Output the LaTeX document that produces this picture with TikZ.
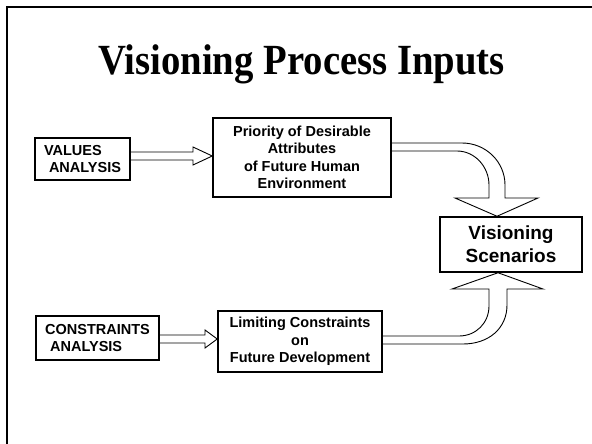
\documentclass[tikz,border=0pt]{standalone}
\usepackage{fontspec}
\setmainfont{Liberation Sans}
\newfontfamily\titlefont[FakeStretch=0.9]{Liberation Serif}
\usetikzlibrary{calc}

\begin{document}
\begin{tikzpicture}[x=1pt,y=-1pt,
  bx/.style={draw,line width=1.5pt,inner sep=0pt,align=center,
    font=\bfseries\fontsize{14.5}{17.5}\selectfont},
  fat/.style={line width=0.9pt,line join=miter}]
  \useasboundingbox (0,0) rectangle (592,444);
  \draw[line width=2.5pt] (7,444) -- (7,7) -- (592,7);

  \node[anchor=base,font=\titlefont\bfseries\fontsize{43}{50}\selectfont] (title)
    at (301.5,75) {Visioning Process Inputs};

  \node[bx,minimum width=95pt,minimum height=42pt,align=left] (values)
    at (82.5,159) {VALUES\\\hspace*{5pt}ANALYSIS};
  \node[bx,minimum width=178pt,minimum height=79pt] (priority)
    at (302,157.5) {Priority of Desirable\\Attributes\\of Future Human\\Environment};
  \node[bx,minimum width=142pt,minimum height=55pt,
    font=\bfseries\fontsize{19}{23}\selectfont] (scen)
    at (511,244.5) {Visioning\\Scenarios};
  \node[bx,minimum width=123pt,minimum height=44pt,align=left] (constr)
    at (97.5,338) {CONSTRAINTS\\\hspace*{5pt}ANALYSIS};
  \node[bx,minimum width=164pt,minimum height=61pt] (limiting)
    at (300,341.5) {Limiting Constraints\\on\\Future Development};

  % hollow arrows
  \draw[fat] (values.east |- 0,152) -- (193,152) -- (193,147) -- (priority.west |- 0,156)
    -- (193,165) -- (193,160) -- (values.east |- 0,160);
  \draw[fat] (constr.east |- 0,335) -- (205,335) -- (205,330) -- (limiting.west |- 0,339)
    -- (205,348) -- (205,343) -- (constr.east |- 0,343);

  \draw[fat] (priority.east |- 0,143) -- (462,143) .. controls (486,143) and (505,162) .. (505,185)
    -- (505,198) -- (538,198) -- (scen.north -| 497,0) -- (455,198) -- (489,198)
    -- (489,185) .. controls (489,167) and (475,151) .. (457,151) -- (priority.east |- 0,151);
  \draw[fat] (limiting.east |- 0,336) -- (459,336) .. controls (476,336) and (489,323) .. (489,306)
    -- (489,289) -- (452,289) -- (scen.south -| 498,0) -- (543,289) -- (507,289)
    -- (507,305) .. controls (507,329) and (488,344) .. (463,344) -- (limiting.east |- 0,344);
\end{tikzpicture}
\end{document}
